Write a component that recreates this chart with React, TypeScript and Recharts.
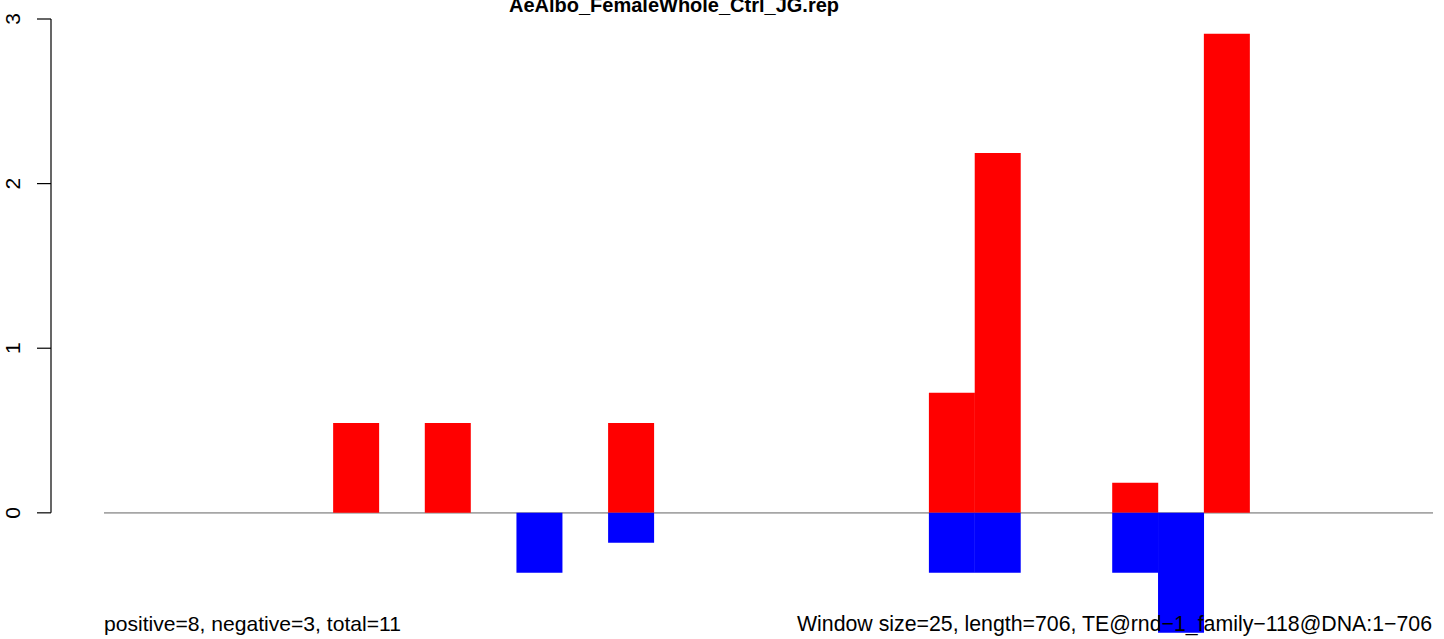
import { BarChart, Bar, XAxis, YAxis, ReferenceArea } from 'recharts'

// one category per 25 bp window (706 bp -> 29 windows)
const windows = [
  '1', '2', '3', '4', '5', '6', '7', '8', '9', '10',
  '11', '12', '13', '14', '15', '16', '17', '18', '19', '20',
  '21', '22', '23', '24', '25', '26', '27', '28', '29',
]
const positive = [
  0, 0, 0, 0, 0, 0.546, 0, 0.546, 0, 0,
  0, 0.546, 0, 0, 0, 0, 0, 0, 0.729, 2.186,
  0, 0, 0.182, 0, 2.91, 0, 0, 0, 0,
]
const negative = [
  0, 0, 0, 0, 0, 0, 0, 0, 0, -0.364,
  0, -0.182, 0, 0, 0, 0, 0, 0, -0.364, -0.364,
  0, 0, -0.364, -0.729, 0, 0, 0, 0, 0,
]
const yTicks = [0, 1, 2, 3]

const title = 'AeAlbo_FemaleWhole_Ctrl_JG.rep'
const leftNote = 'positive=8, negative=3, total=11'
const rightNote = 'Window size=25, length=706, TE@rnd\u22121_family\u2212118@DNA:1\u2212706'

const data = windows.map((w, i) => ({ win: w, pos: positive[i], neg: negative[i] }))

const font = '"Liberation Sans", Arial, Helvetica, sans-serif'
const W = 1444
const H = 639
const MARGIN = { top: 19, right: 0, bottom: 6, left: 0 }
const Y_DOMAIN: [number, number] = [-0.73, 3]
const AXIS_W = 51
const TICK_SIZE = 14
const TICK_MARGIN = 17

// same linear mapping the y axis uses, for the R-style axis line
// that only runs from the first to the last tick
const pxPerUnit = (H - MARGIN.top - MARGIN.bottom) / (Y_DOMAIN[1] - Y_DOMAIN[0])
const yOf = (v: number) => MARGIN.top + (Y_DOMAIN[1] - v) * pxPerUnit

function YTick(props: any) {
  const x = Number(props.x)
  const y = Number(props.y)
  return (
    <text
      x={x}
      y={y}
      transform={`rotate(-90 ${x} ${y})`}
      textAnchor="middle"
      fontSize={21}
      fontFamily={font}
      fill="#000"
    >
      {props.payload.value}
    </text>
  )
}

export default function App() {
  return (
    <div style={{ position: 'absolute', left: 0, top: 0, width: W, height: H, background: '#fff' }}>
      <BarChart
        width={W}
        height={H}
        data={data}
        stackOffset="sign"
        barCategoryGap={0}
        margin={MARGIN}
      >
        <XAxis dataKey="win" hide padding={{ left: 53, right: 11 }} />
        <YAxis
          type="number"
          domain={Y_DOMAIN}
          allowDataOverflow
          ticks={yTicks}
          width={AXIS_W}
          axisLine={false}
          tickLine={{ stroke: '#000', strokeWidth: 1.2 }}
          tickSize={TICK_SIZE}
          tickMargin={TICK_MARGIN}
          tick={(props: any) => <YTick {...props} />}
        />
        <ReferenceArea
          x1={windows[0]}
          x2={windows[windows.length - 1]}
          y1={-0.0055}
          y2={0.0055}
          fill="#a6a6a6"
          fillOpacity={1}
          stroke="none"
        />
        <Bar dataKey="pos" stackId="s" fill="#ff0000" isAnimationActive={false} />
        <Bar dataKey="neg" stackId="s" fill="#0000ff" isAnimationActive={false} />
      </BarChart>
      <svg
        width={W}
        height={H}
        style={{ position: 'absolute', left: 0, top: 0, pointerEvents: 'none' }}
      >
        <line
          x1={AXIS_W}
          x2={AXIS_W}
          y1={yOf(yTicks[0])}
          y2={yOf(yTicks[yTicks.length - 1])}
          stroke="#000"
          strokeWidth={1.2}
        />
        <text x={674} y={12} textAnchor="middle" fontSize={20} fontWeight="bold" fontFamily={font} fill="#000">
          {title}
        </text>
        <text x={104} y={631} fontSize={21.1} fontFamily={font} fill="#000">
          {leftNote}
        </text>
        <text x={1432} y={631} textAnchor="end" fontSize={21.3} fontFamily={font} fill="#000">
          {rightNote}
        </text>
      </svg>
    </div>
  )
}
